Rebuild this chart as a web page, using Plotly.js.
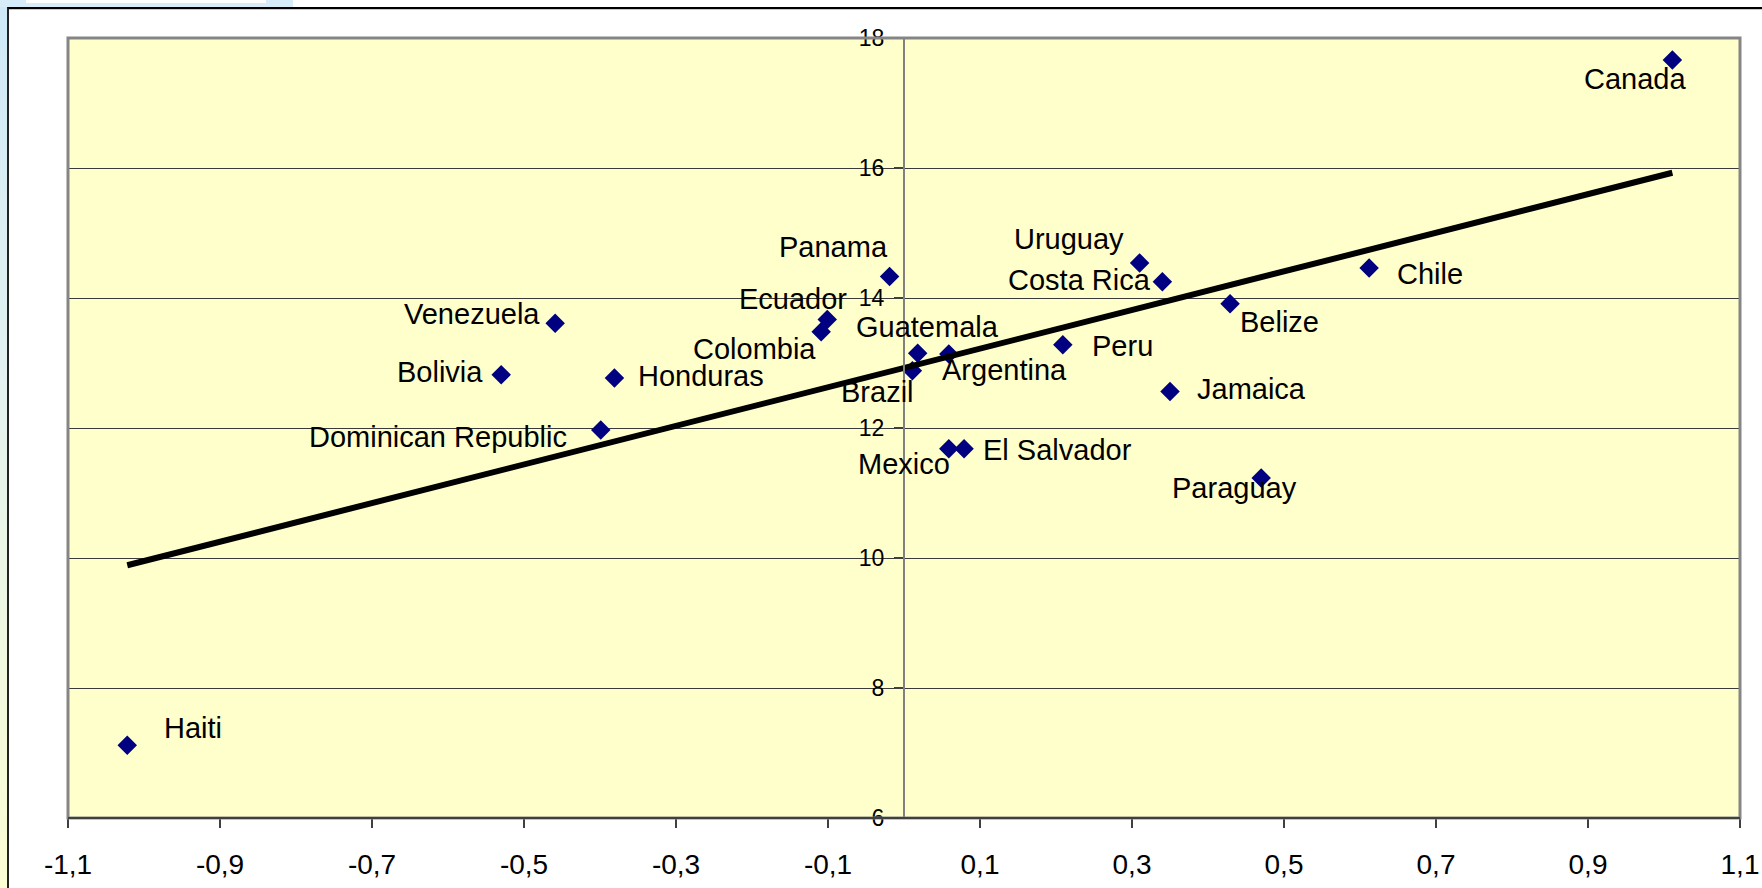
<!DOCTYPE html>
<html>
<head>
<meta charset="utf-8">
<script src="https://cdn.plot.ly/plotly-3.0.1.min.js"></script>
<style>
html,body{margin:0;padding:0;background:#fff;}
#wrap{position:relative;width:1762px;height:888px;overflow:hidden;background:#fff;}
#strip{position:absolute;left:0;top:0;width:7px;height:888px;background:linear-gradient(to bottom,#cfe9f8 0%,#e4f2ef 45%,#fbfdd2 100%);}
#topband{position:absolute;left:0;top:0;width:293px;height:7px;background:#d6edf9;}
#topwhite{position:absolute;left:26px;top:0;width:240px;height:3px;background:#fff;}
#frame{position:absolute;left:7px;top:7px;width:1770px;height:900px;border-left:2px solid #222;border-top:2px solid #000;box-shadow:inset 0 1px 0 #c8c8c8;background:#fff;}
#chart{position:absolute;left:0;top:0;width:1762px;height:888px;}
</style>
</head>
<body>
<div id="wrap">
  <div id="strip"></div>
  <div id="topband"><div id="topwhite"></div></div>
  <div id="frame"></div>
  <div id="chart"></div>
</div>
<script>
// ---- data ----
const countries = ["Canada","Chile","Belize","Uruguay","Costa Rica","Peru","Jamaica","Paraguay",
  "El Salvador","Mexico","Argentina","Guatemala","Brazil","Panama","Ecuador","Colombia",
  "Venezuela","Bolivia","Honduras","Dominican Republic","Haiti"];
const xValues = [1.011, 0.612, 0.429, 0.310, 0.340, 0.209, 0.350, 0.470,
  0.079, 0.059, 0.059, 0.018, 0.011, -0.019, -0.101, -0.109,
  -0.459, -0.530, -0.381, -0.399, -1.022];
const yValues = [17.66, 14.46, 13.91, 14.54, 14.25, 13.28, 12.56, 11.23,
  11.68, 11.68, 13.14, 13.15, 12.88, 14.33, 13.67, 13.48,
  13.61, 12.82, 12.77, 11.97, 7.12];
const xTickVals = [-1.1, -0.9, -0.7, -0.5, -0.3, -0.1, 0.1, 0.3, 0.5, 0.7, 0.9, 1.1];
const xTickText = ["-1,1", "-0,9", "-0,7", "-0,5", "-0,3", "-0,1", "0,1", "0,3", "0,5", "0,7", "0,9", "1,1"];
const yTickVals = [6, 8, 10, 12, 14, 16, 18];
const yTickText = ["6", "8", "10", "12", "14", "16", "18"];

// ---- label placement (style: pixel offsets of label centre from its marker, dy downward) ----
const labelOffset = {
  "Canada": [-37, 19], "Chile": [61, 6], "Belize": [49, 18], "Uruguay": [-71, -24],
  "Costa Rica": [-83, -2], "Peru": [60, 1], "Jamaica": [81, -3], "Paraguay": [-27, 10],
  "El Salvador": [93, 1], "Mexico": [-45, 15], "Argentina": [56, 16], "Guatemala": [10, -26],
  "Brazil": [-35, 21], "Panama": [-56, -30], "Ecuador": [-34, -20], "Colombia": [-67, 17],
  "Venezuela": [-83, -9], "Bolivia": [-61, -3], "Honduras": [87, -2],
  "Dominican Republic": [-163, 7], "Haiti": [66, -17]
};

// ---- least squares trend line ----
const n = xValues.length;
const mx = xValues.reduce((a, b) => a + b, 0) / n;
const my = yValues.reduce((a, b) => a + b, 0) / n;
let sxy = 0, sxx = 0;
for (let i = 0; i < n; i++) { sxy += (xValues[i] - mx) * (yValues[i] - my); sxx += (xValues[i] - mx) ** 2; }
const slope = sxy / sxx, intercept = my - slope * mx;
const xMin = Math.min(...xValues), xMax = Math.max(...xValues);

const FONT = 'Arial, "Liberation Sans", Helvetica, sans-serif';

const traces = [
  {
    type: 'scatter', mode: 'markers', x: xValues, y: yValues, text: countries,
    marker: { symbol: 'diamond', size: 15, color: '#000080', line: { width: 0 } },
    hoverinfo: 'text', showlegend: false
  },
  {
    type: 'scatter', mode: 'lines', x: [xMin, xMax], y: [intercept + slope * xMin, intercept + slope * xMax],
    line: { color: '#000000', width: 6 }, hoverinfo: 'skip', showlegend: false
  }
];

const annotations = countries.map((c, i) => ({
  x: xValues[i], y: yValues[i], xref: 'x', yref: 'y', text: c, showarrow: false,
  xanchor: 'center', yanchor: 'middle',
  xshift: labelOffset[c][0], yshift: -labelOffset[c][1],
  font: { family: FONT, size: 29, color: '#000000' }
}));

const layout = {
  width: 1762, height: 888, autosize: false,
  margin: { l: 68, r: 22, t: 38, b: 70, pad: 0 },
  paper_bgcolor: 'rgba(0,0,0,0)',
  plot_bgcolor: '#FFFFCC',
  showlegend: false,
  font: { family: FONT, color: '#000000' },
  xaxis: {
    range: [-1.1, 1.1], tickmode: 'array', tickvals: xTickVals, ticktext: xTickText,
    showgrid: false, zeroline: false, showline: false,
    ticks: 'outside', ticklen: 9, tickwidth: 2, tickcolor: '#404040',
    tickfont: { family: FONT, size: 28, color: '#000000' }, ticklabelstandoff: 12
  },
  yaxis: {
    range: [6, 18], tickmode: 'array', tickvals: yTickVals, ticktext: yTickText,
    anchor: 'free', position: 0.5, side: 'left',
    showgrid: true, gridcolor: '#3a3a3a', gridwidth: 1, zeroline: false,
    showline: true, linecolor: '#808080', linewidth: 2,
    ticks: 'outside', ticklen: 9, tickwidth: 2, tickcolor: '#404040',
    tickfont: { family: FONT, size: 23, color: '#000000' }, ticklabelstandoff: 5
  },
  shapes: [
    { type: 'rect', xref: 'paper', yref: 'paper', x0: 0, x1: 1, y0: 0, y1: 1,
      line: { color: '#858585', width: 3 }, fillcolor: 'rgba(0,0,0,0)', layer: 'above' },
    { type: 'line', xref: 'paper', yref: 'paper', x0: 0, x1: 1, y0: 0, y1: 0,
      line: { color: '#404040', width: 2 }, layer: 'above' }
  ],
  annotations: annotations
};

Plotly.newPlot('chart', traces, layout, { displayModeBar: false, staticPlot: true });
</script>
</body>
</html>
